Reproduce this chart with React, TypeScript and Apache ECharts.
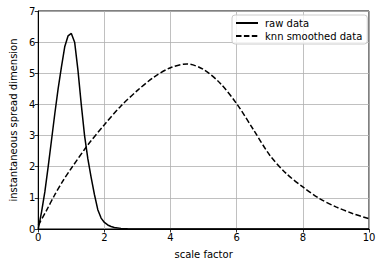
import React, { useEffect, useRef } from "react";
import * as echarts from "echarts";

const rawX = [0, 0.1, 0.2, 0.3, 0.4, 0.5, 0.6, 0.7, 0.8, 0.9, 1.0, 1.1, 1.2, 1.3, 1.4, 1.5, 1.6, 1.7, 1.8, 1.9, 2.0, 2.1, 2.2, 2.3, 2.5, 2.7, 3.0, 4.0, 6.0, 8.0, 10.0];
const rawY = [0, 0.55, 1.2, 2.0, 2.85, 3.7, 4.5, 5.2, 5.85, 6.2, 6.28, 6.0, 5.1, 4.0, 3.0, 2.25, 1.65, 1.1, 0.62, 0.35, 0.21, 0.13, 0.08, 0.05, 0.02, 0.01, 0, 0, 0, 0, 0];

const knnX = [0, 0.25, 0.5, 0.75, 1.0, 1.5, 2.0, 2.5, 3.0, 3.5, 4.0, 4.5, 5.0, 5.5, 6.0, 6.5, 7.0, 7.5, 8.0, 8.5, 9.0, 9.5, 10.0];
const knnY = [0.12, 0.6, 1.1, 1.55, 1.95, 2.7, 3.35, 3.95, 4.45, 4.88, 5.18, 5.3, 5.12, 4.68, 4.02, 3.2, 2.37, 1.78, 1.35, 0.98, 0.71, 0.5, 0.33];

const seriesNames = ["raw data", "knn smoothed data"];
const xAxisName = "scale factor";
const yAxisName = "instantaneous spread dimension";

const FONT = "DejaVu Sans";

export default function App() {
  const ref = useRef<HTMLDivElement>(null);
  useEffect(() => {
    if (!ref.current) return;
    const chart = echarts.init(ref.current, undefined, { renderer: "svg" });
    const axisCommon = {
      axisLine: { show: true, onZero: false, lineStyle: { color: "#000", width: 1 } },
      axisTick: { show: true, inside: false, length: 3.5, lineStyle: { color: "#000", width: 0.8 } },
      axisLabel: { color: "#000", fontFamily: FONT, fontSize: 10, margin: 3 },
      splitLine: { show: true, lineStyle: { color: "#b0b0b0", width: 0.8 } },
      nameTextStyle: { color: "#000", fontFamily: FONT, fontSize: 10 },
    };
    chart.setOption({
      animation: false,
      backgroundColor: "#fff",
      grid: {
        left: 35,
        right: 13,
        top: 11,
        bottom: 37,
        show: true,
        borderColor: "#000",
        borderWidth: 1,
        backgroundColor: "transparent",
      },
      xAxis: {
        type: "value",
        min: 0,
        max: 10,
        interval: 2,
        name: xAxisName,
        nameLocation: "middle",
        nameGap: 20,
        ...axisCommon,
      },
      yAxis: {
        type: "value",
        min: 0,
        max: 7,
        interval: 1,
        name: yAxisName,
        nameLocation: "middle",
        nameGap: 19,
        ...axisCommon,
      },
      legend: {
        orient: "vertical",
        left: 232,
        top: 15,
        padding: [3, 5, 3, 3],
        itemGap: 3,
        itemWidth: 22,
        itemHeight: 12,
        backgroundColor: "rgba(255,255,255,0.8)",
        borderColor: "#cccccc",
        borderWidth: 1,
        borderRadius: 3,
        itemStyle: { opacity: 0 },
        textStyle: { color: "#000", fontFamily: FONT, fontSize: 10, padding: [0, 0, 0, 2] },
        data: seriesNames,
      },
      series: [
        {
          name: seriesNames[0],
          type: "line",
          symbol: "none",
          data: rawX.map((x, i) => [x, rawY[i]]),
          lineStyle: { color: "#000", width: 1.5, type: "solid" },
          itemStyle: { color: "#000" },
          z: 3,
        },
        {
          name: seriesNames[1],
          type: "line",
          symbol: "none",
          smooth: 0.3,
          data: knnX.map((x, i) => [x, knnY[i]]),
          lineStyle: { color: "#000", width: 1.5, type: [5.5, 2.4] },
          itemStyle: { color: "#000" },
          z: 3,
        },
      ],
    });
    return () => chart.dispose();
  }, []);
  return (
    <div
      ref={ref}
      style={{ width: 382, height: 266, position: "absolute", left: 0, top: 0 }}
    />
  );
}
